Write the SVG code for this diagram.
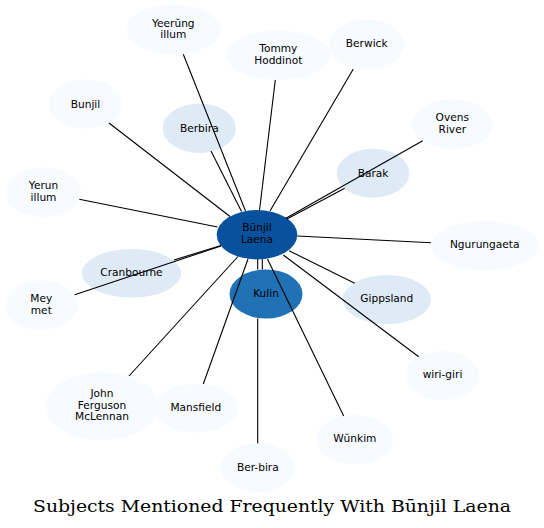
<svg xmlns="http://www.w3.org/2000/svg" width="544" height="528" viewBox="0 0 544 528">
<style>
text{font-family:"DejaVu Sans","Liberation Sans",sans-serif;font-size:10.6px;fill:#000;text-anchor:middle}
.l0{fill:#f7fbff}
.l1{fill:#deebf7}
.l2{fill:#2171b5}
.l3{fill:#08519c}
#edges path{stroke:#000;stroke-width:1.1;fill:none}
.title{font-family:"DejaVu Serif","Liberation Serif",serif;font-size:16.5px}
</style>
<rect width="544" height="528" fill="#fff"/>
<g id="nodes">
<g id="n-yeerung"><ellipse class="l0" cx="173.3" cy="29.5" rx="47.3" ry="24.8"/><text x="173.3" y="26.5">Yeerŭng</text><text x="173.3" y="38.2">illum</text></g>
<g id="n-tommy"><ellipse class="l0" cx="278.3" cy="55.3" rx="51.7" ry="24.7"/><text x="278.3" y="52">Tommy</text><text x="278.3" y="63.7">Hoddinot</text></g>
<g id="n-berwick"><ellipse class="l0" cx="366.7" cy="44.2" rx="37.3" ry="24.8"/><text x="366.7" y="46.5">Berwick</text></g>
<g id="n-bunjil"><ellipse class="l0" cx="85.5" cy="104" rx="36.5" ry="24.5"/><text x="85.5" y="107.5">Bunjil</text></g>
<g id="n-berbira"><ellipse class="l1" cx="199.3" cy="128.3" rx="36.7" ry="24.7"/><text x="199.3" y="131.5">Berbira</text></g>
<g id="n-ovens"><ellipse class="l0" cx="452.3" cy="124.2" rx="40.3" ry="24.8"/><text x="452.3" y="121">Ovens</text><text x="452.3" y="132.7">River</text></g>
<g id="n-barak"><ellipse class="l1" cx="373" cy="173.2" rx="36.3" ry="24.5"/><text x="373" y="176.5">Barak</text></g>
<g id="n-yerun"><ellipse class="l0" cx="43.5" cy="192.2" rx="37.5" ry="24.8"/><text x="43.5" y="189">Yerun</text><text x="43.5" y="200.7">illum</text></g>
<g id="n-ngurungaeta"><ellipse class="l0" cx="484.7" cy="245.5" rx="53.7" ry="24.5"/><text x="484.7" y="247.8">Ngurungaeta</text></g>
<g id="n-cranbourne"><ellipse class="l1" cx="131.5" cy="273.3" rx="49.5" ry="24.3"/><text x="131.5" y="276">Cranbourne</text></g>
<g id="n-kulin"><ellipse class="l2" cx="266" cy="294" rx="36.5" ry="24.5"/><text x="266" y="296.5">Kulin</text></g>
<g id="n-center"><ellipse class="l3" cx="257" cy="234.7" rx="40.3" ry="24.7"/><text x="257" y="231">Būnjil</text><text x="257" y="242.7">Laena</text></g>
<g id="n-gippsland"><ellipse class="l1" cx="386.8" cy="299.5" rx="44.2" ry="24.5"/><text x="386.8" y="302">Gippsland</text></g>
<g id="n-meymet"><ellipse class="l0" cx="41.3" cy="305.3" rx="36.3" ry="24.7"/><text x="41.3" y="302">Mey</text><text x="41.3" y="313.7">met</text></g>
<g id="n-wirigiri"><ellipse class="l0" cx="442.5" cy="375.5" rx="36.5" ry="24.5"/><text x="442.5" y="378">wiri-giri</text></g>
<g id="n-john"><ellipse class="l0" cx="102" cy="406.2" rx="56.3" ry="33.8"/><text x="102" y="397">John</text><text x="102" y="408.7">Ferguson</text><text x="102" y="420.4">McLennan</text></g>
<g id="n-mansfield"><ellipse class="l0" cx="195.8" cy="408.2" rx="41.8" ry="24.2"/><text x="195.8" y="411">Mansfield</text></g>
<g id="n-wunkim"><ellipse class="l0" cx="354.8" cy="439.5" rx="38.2" ry="24.5"/><text x="354.8" y="442">Wŭnkim</text></g>
<g id="n-berbira2"><ellipse class="l0" cx="257.8" cy="467.7" rx="37.2" ry="24.3"/><text x="257.8" y="470.5">Ber-bira</text></g>
</g>
<g id="edges">
<path d="M183.3,54.3L245.5,211"/>
<path d="M275.3,80L259.5,210.5"/>
<path d="M353.3,69L270,211"/>
<path d="M211,151L241.5,211.5"/>
<path d="M109,123L230,216.5"/>
<path d="M79.3,199.3L217.5,227"/>
<path d="M174,260L221,245.5"/>
<path d="M74.7,294.7L221,246"/>
<path d="M129,376L238,256.5"/>
<path d="M203.3,384L248,259"/>
<path d="M257.7,259.3V269.5M257.7,318.5V443.3"/>
<path d="M262.3,259.3V269.6"/>
<path d="M343.7,416L267.5,259"/>
<path d="M418.7,356.7L283.3,255"/>
<path d="M354.7,283.3L289,250.7"/>
<path d="M431,242.7L297.3,236"/>
<path d="M344.7,188.3L287,219"/>
<path d="M422.7,140.7L285.5,218.5"/>
</g>
<text class="title" x="272" y="511.5" textLength="478" lengthAdjust="spacingAndGlyphs">Subjects Mentioned Frequently With Būnjil Laena</text>
</svg>
